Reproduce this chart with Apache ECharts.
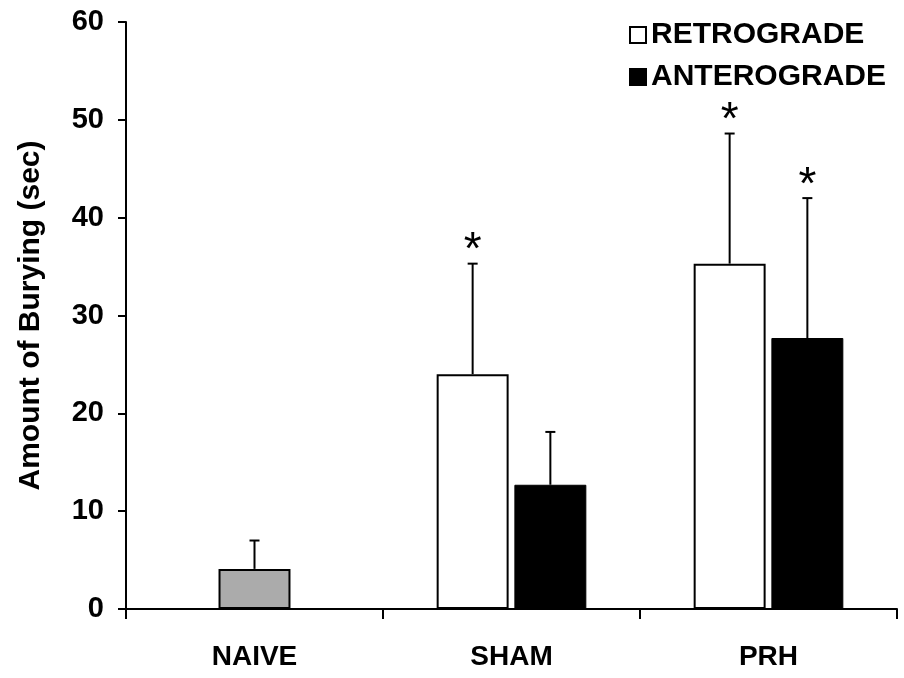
<!DOCTYPE html>
<html>
<head>
<meta charset="utf-8">
<script src="https://cdn.jsdelivr.net/npm/echarts@6/dist/echarts.min.js"></script>
<style>
  html, body { margin: 0; padding: 0; background: #fff; }
  #chart { width: 904px; height: 678px; }
</style>
</head>
<body>
<div id="chart"></div>
<script>
// groups
var categories = ['NAIVE', 'SHAM', 'PRH'];

// NAIVE control (single bar)
var naiveMean = [4.1, '-', '-'];
var naiveErr = [2.9, null, null];

// RETROGRADE
var retroMean = ['-', 24.0, 35.3];
var retroErr = [null, 11.3, 13.3];
var retroSig = [false, true, true];

// ANTEROGRADE
var anteroMean = ['-', 12.7, 27.7];
var anteroErr = [null, 5.4, 14.3];
var anteroSig = [false, false, true];

var yTicks = { min: 0, max: 60, interval: 10 };

var FONT = '"Liberation Sans", Arial, sans-serif';
var BAR_W = 0.28;   // fraction of band
var BAR_GAP = 0.08; // fraction of bar width

// error bar data: [categoryIndex, mean, err, sig]
function errData(mean, err, sig) {
    var out = [];
    for (var i = 0; i < mean.length; i++) {
        if (err[i] == null) continue;
        out.push([i, mean[i], err[i], sig ? (sig[i] ? 1 : 0) : 0]);
    }
    return out;
}

// offset: -1 left bar, 0 centered, 1 right bar
function errorBarSeries(name, data, offset, xIdx) {
    return {
        name: name + ' err',
        type: 'custom',
        xAxisIndex: xIdx,
        z: 5,
        silent: true,
        data: data,
        renderItem: function (params, api) {
            var i = api.value(0);
            var mean = api.value(1);
            var err = api.value(2);
            var sig = api.value(3);
            var band = api.size([1, 0])[0];
            var bw = band * BAR_W;
            var dx = offset * (bw + bw * BAR_GAP) / 2;
            var base = api.coord([i, mean]);
            var top = api.coord([i, mean + err]);
            var x = base[0] + dx;
            var cap = 5;
            var children = [
                { type: 'line', shape: { x1: x, y1: base[1], x2: x, y2: top[1] },
                  style: { stroke: '#000', lineWidth: 2 } },
                { type: 'line', shape: { x1: x - cap, y1: top[1], x2: x + cap, y2: top[1] },
                  style: { stroke: '#000', lineWidth: 2 } }
            ];
            if (sig) {
                children.push({
                    type: 'text',
                    x: x, y: top[1] - 12,
                    style: { text: '*', fill: '#000', font: '46px ' + FONT,
                             textAlign: 'center', textVerticalAlign: 'middle' }
                });
            }
            return { type: 'group', children: children };
        }
    };
}

var chart = echarts.init(document.getElementById('chart'));

var option = {
    animation: false,
    backgroundColor: '#fff',
    textStyle: { fontFamily: FONT },
    grid: { left: 126, right: 7, top: 22, bottom: 69 },
    legend: {
        data: ['RETROGRADE', 'ANTEROGRADE'],
        orient: 'vertical',
        left: 624,
        top: 15,
        icon: 'rect',
        itemWidth: 16,
        itemHeight: 16,
        itemGap: 12,
        textStyle: { fontSize: 30, fontWeight: 'bold', color: '#000', fontFamily: FONT }
    },
    xAxis: [
        {
            type: 'category',
            data: categories,
            axisLine: { lineStyle: { color: '#000', width: 2 } },
            axisTick: { show: true, length: 10, lineStyle: { color: '#000', width: 2 } },
            axisLabel: { fontSize: 28, fontWeight: 'bold', color: '#000', margin: 34, fontFamily: FONT }
        },
        {
            type: 'category',
            data: categories,
            show: false
        }
    ],
    yAxis: {
        type: 'value',
        min: yTicks.min,
        max: yTicks.max,
        interval: yTicks.interval,
        name: 'Amount of Burying (sec)',
        nameLocation: 'middle',
        nameGap: 80,
        nameTextStyle: { fontSize: 30, fontWeight: 'bold', color: '#000', fontFamily: FONT },
        axisLine: { show: true, lineStyle: { color: '#000', width: 2 } },
        axisTick: { show: true, length: 8, lineStyle: { color: '#000', width: 2 } },
        axisLabel: { fontSize: 29, fontWeight: 'bold', color: '#000', margin: 22, fontFamily: FONT },
        splitLine: { show: false }
    },
    series: [
        {
            name: 'RETROGRADE',
            type: 'bar',
            xAxisIndex: 0,
            data: retroMean,
            barWidth: (BAR_W * 100) + '%',
            barGap: (BAR_GAP * 100) + '%',
            itemStyle: { color: '#fff', borderColor: '#000', borderWidth: 2 }
        },
        {
            name: 'ANTEROGRADE',
            type: 'bar',
            xAxisIndex: 0,
            data: anteroMean,
            barWidth: (BAR_W * 100) + '%',
            barGap: (BAR_GAP * 100) + '%',
            itemStyle: { color: '#000', borderColor: '#000', borderWidth: 1 }
        },
        {
            name: 'NAIVE',
            type: 'bar',
            xAxisIndex: 1,
            data: naiveMean,
            barWidth: (BAR_W * 100) + '%',
            itemStyle: { color: '#ababab', borderColor: '#000', borderWidth: 2 }
        },
        errorBarSeries('RETROGRADE', errData(retroMean, retroErr, retroSig), -1, 0),
        errorBarSeries('ANTEROGRADE', errData(anteroMean, anteroErr, anteroSig), 1, 0),
        errorBarSeries('NAIVE', errData(naiveMean, naiveErr, null), 0, 1)
    ]
};

chart.setOption(option);
</script>
</body>
</html>
